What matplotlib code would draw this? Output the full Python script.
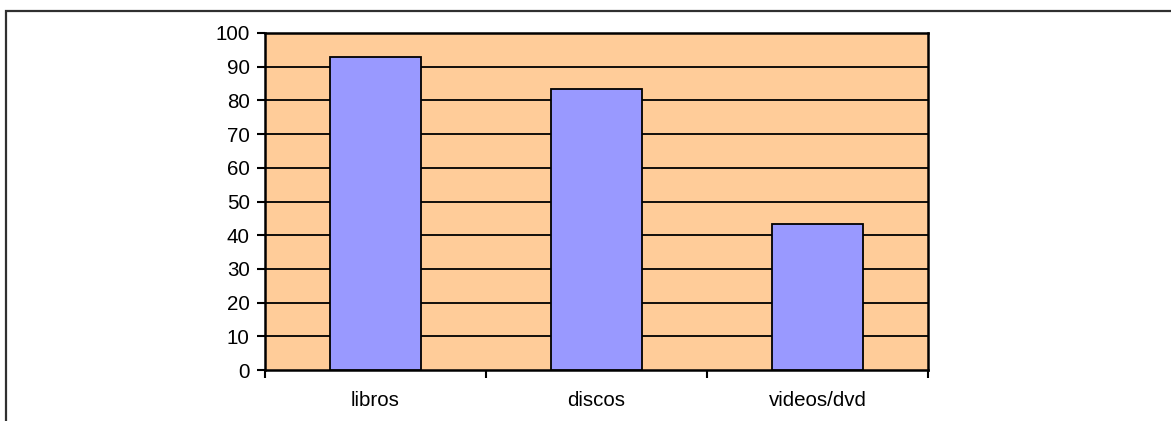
import matplotlib as mpl
mpl.use('Agg')

import matplotlib.pyplot as pl
from matplotlib.patches import Rectangle

mpl.rcParams['font.family'] = 'sans-serif'
mpl.rcParams['font.sans-serif'] = ['Liberation Sans', 'DejaVu Sans']

categories = ['libros', 'discos', 'videos/dvd']
values = [93, 83.5, 43.3]
y_ticks = [0, 10, 20, 30, 40, 50, 60, 70, 80, 90, 100]

W, H = 1171, 421
fig = pl.figure(figsize=(W / 100, H / 100), dpi=100)

# outer chart frame, runs off the right and bottom edges
fig.patches.append(Rectangle((6 / W, -0.1), 1.2, (H - 11) / H + 0.1,
                             transform=fig.transFigure, fill=False,
                             edgecolor='#303030', linewidth=1.6))

left, right = 265 / W, 928 / W
top, bottom = 33 / H, 370 / H
ax = fig.add_axes([left, 1 - bottom, right - left, bottom - top])
ax.set_facecolor('#FFCC99')

x = range(len(categories))
ax.bar(x, values, width=0.41, color='#9999FF', edgecolor='k', linewidth=1.3, zorder=3)

ax.set_ylim(0, 100)
ax.set_xlim(-0.5, len(categories) - 0.5)
ax.set_yticks(y_ticks)
ax.set_yticklabels([str(v) for v in y_ticks], fontsize=14.8)
for v in y_ticks[1:-1]:
    ax.axhline(v, color='k', linewidth=1.3, zorder=2)

ax.set_xticks([i - 0.5 for i in range(len(categories) + 1)])
ax.set_xticklabels([])
ax.set_xticks(list(x), minor=True)
ax.set_xticklabels(categories, minor=True, fontsize=14.8)
ax.tick_params(axis='x', which='minor', length=0, pad=15)
ax.tick_params(axis='x', which='major', length=6, width=1.5, direction='out')
ax.tick_params(axis='y', length=6, width=1.5, direction='out', pad=5)

for s in ax.spines.values():
    s.set_linewidth(1.8)
    s.set_color('k')

pl.savefig('out.png', dpi=100)
pl.close()
